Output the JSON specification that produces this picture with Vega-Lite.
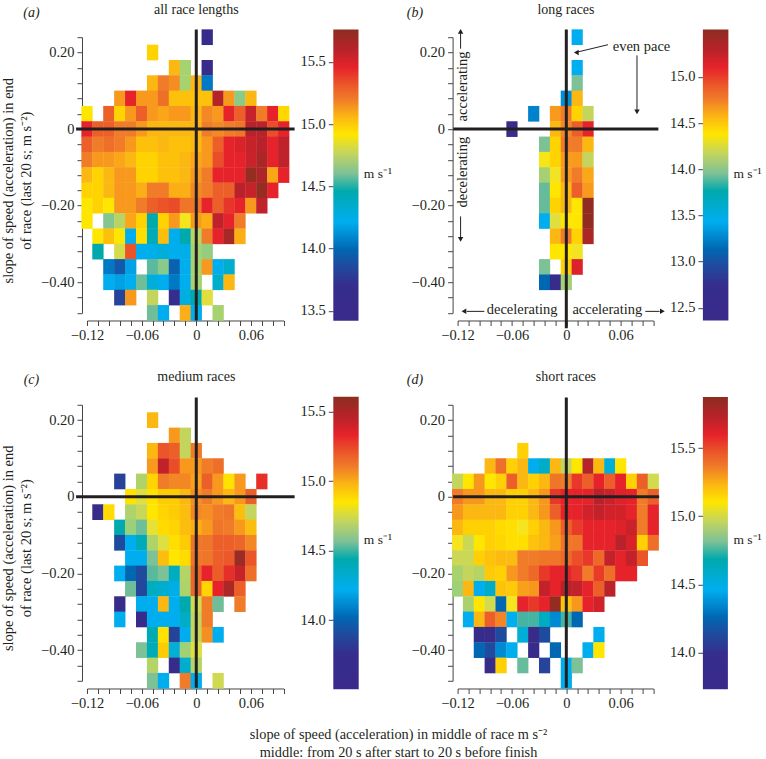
{"$schema":"https://vega.github.io/schema/vega-lite/v6.json","padding":{"top":2.2,"left":0,"right":0,"bottom":0},"bounds":"flush","columns":4,"spacing":{"row":91.6,"column":49.3},"resolve":{"scale":{"color":"independent"}},
"config":{"font":"Liberation Serif","view":{"stroke":null},"axis":{"grid":false,"domainColor":"#444444","tickColor":"#444444","tickSize":5,"labelColor":"#231f20","labelFontSize":14.5,"labelPadding":3,"labelOverlap":false,"labelFlush":false,"titleColor":"#231f20","titleFontWeight":"normal","titleFontSize":13.5},"title":{"fontSize":14,"fontWeight":"normal","color":"#231f20"},"text":{"color":"#231f20"}},
"concat":[
{"width":196.7,"height":275.7,"title":{"text":"all race lengths","frame":"group","anchor":"middle","dx":11,"dy":34.5,"offset":23},
"data":{"values":[
{"x":0.012,"y":0.24,"v":13.56},
{"x":-0.048,"y":0.2,"v":14.98},
{"x":-0.024,"y":0.16,"v":15.06},{"x":-0.012,"y":0.16,"v":14.72},{"x":0.012,"y":0.16,"v":13.56},
{"x":-0.048,"y":0.12,"v":15.06},{"x":-0.036,"y":0.12,"v":15.2},{"x":-0.024,"y":0.12,"v":15.16},{"x":-0.012,"y":0.12,"v":14.72},{"x":0,"y":0.12,"v":15.06},{"x":0.012,"y":0.12,"v":14.05},
{"x":-0.084,"y":0.08,"v":15.13},{"x":-0.072,"y":0.08,"v":15.46},{"x":-0.06,"y":0.08,"v":15.13},{"x":-0.048,"y":0.08,"v":15.13},{"x":-0.036,"y":0.08,"v":15.24},{"x":-0.024,"y":0.08,"v":15.03},{"x":-0.012,"y":0.08,"v":15.03},{"x":0,"y":0.08,"v":15.03},{"x":0.012,"y":0.08,"v":15.03},{"x":0.024,"y":0.08,"v":15.62},{"x":0.036,"y":0.08,"v":15.13},{"x":0.048,"y":0.08,"v":14.66},{"x":0.06,"y":0.08,"v":15.06},
{"x":-0.12,"y":0.04,"v":14.92},{"x":-0.096,"y":0.04,"v":15.29},{"x":-0.084,"y":0.04,"v":14.98},{"x":-0.072,"y":0.04,"v":15.13},{"x":-0.06,"y":0.04,"v":15.29},{"x":-0.048,"y":0.04,"v":15.13},{"x":-0.036,"y":0.04,"v":15.1},{"x":-0.024,"y":0.04,"v":15.13},{"x":-0.012,"y":0.04,"v":15.13},{"x":0,"y":0.04,"v":15.06},{"x":0.012,"y":0.04,"v":15.17},{"x":0.024,"y":0.04,"v":15.13},{"x":0.036,"y":0.04,"v":15.46},{"x":0.048,"y":0.04,"v":15.29},{"x":0.06,"y":0.04,"v":15.56},{"x":0.072,"y":0.04,"v":15.2},{"x":0.084,"y":0.04,"v":15.46},{"x":0.096,"y":0.04,"v":14.96},
{"x":-0.12,"y":0,"v":15.46},{"x":-0.108,"y":0,"v":15.29},{"x":-0.096,"y":0,"v":15.29},{"x":-0.084,"y":0,"v":15.2},{"x":-0.072,"y":0,"v":15.2},{"x":-0.06,"y":0,"v":15.13},{"x":-0.048,"y":0,"v":15.06},{"x":-0.036,"y":0,"v":15.06},{"x":-0.024,"y":0,"v":15.06},{"x":-0.012,"y":0,"v":15.06},{"x":0,"y":0,"v":15.06},{"x":0.012,"y":0,"v":15.2},{"x":0.024,"y":0,"v":15.17},{"x":0.036,"y":0,"v":15.2},{"x":0.048,"y":0,"v":15.22},{"x":0.06,"y":0,"v":15.6},{"x":0.072,"y":0,"v":15.6},{"x":0.084,"y":0,"v":15.35},{"x":0.096,"y":0,"v":15.46},
{"x":-0.12,"y":-0.04,"v":15.29},{"x":-0.108,"y":-0.04,"v":15.2},{"x":-0.096,"y":-0.04,"v":15.24},{"x":-0.084,"y":-0.04,"v":15.2},{"x":-0.072,"y":-0.04,"v":15.13},{"x":-0.06,"y":-0.04,"v":15.03},{"x":-0.048,"y":-0.04,"v":15.03},{"x":-0.036,"y":-0.04,"v":15.06},{"x":-0.024,"y":-0.04,"v":15.03},{"x":-0.012,"y":-0.04,"v":15.03},{"x":0,"y":-0.04,"v":15.06},{"x":0.012,"y":-0.04,"v":15.13},{"x":0.024,"y":-0.04,"v":15.29},{"x":0.036,"y":-0.04,"v":15.46},{"x":0.048,"y":-0.04,"v":15.5},{"x":0.06,"y":-0.04,"v":15.56},{"x":0.072,"y":-0.04,"v":15.6},{"x":0.084,"y":-0.04,"v":15.46},{"x":0.096,"y":-0.04,"v":15.58},
{"x":-0.12,"y":-0.08,"v":15.2},{"x":-0.108,"y":-0.08,"v":15.13},{"x":-0.096,"y":-0.08,"v":15.13},{"x":-0.084,"y":-0.08,"v":15.1},{"x":-0.072,"y":-0.08,"v":15.06},{"x":-0.06,"y":-0.08,"v":14.98},{"x":-0.048,"y":-0.08,"v":14.98},{"x":-0.036,"y":-0.08,"v":15.03},{"x":-0.024,"y":-0.08,"v":15.03},{"x":-0.012,"y":-0.08,"v":15.06},{"x":0,"y":-0.08,"v":15.1},{"x":0.012,"y":-0.08,"v":15.13},{"x":0.024,"y":-0.08,"v":15.35},{"x":0.036,"y":-0.08,"v":15.46},{"x":0.048,"y":-0.08,"v":15.46},{"x":0.06,"y":-0.08,"v":15.55},{"x":0.072,"y":-0.08,"v":15.65},{"x":0.084,"y":-0.08,"v":15.46},{"x":0.096,"y":-0.08,"v":15.58},
{"x":-0.12,"y":-0.12,"v":15.06},{"x":-0.108,"y":-0.12,"v":14.98},{"x":-0.096,"y":-0.12,"v":15.06},{"x":-0.084,"y":-0.12,"v":15.13},{"x":-0.072,"y":-0.12,"v":15.13},{"x":-0.06,"y":-0.12,"v":14.98},{"x":-0.048,"y":-0.12,"v":14.98},{"x":-0.036,"y":-0.12,"v":15.03},{"x":-0.024,"y":-0.12,"v":15.03},{"x":-0.012,"y":-0.12,"v":15.06},{"x":0,"y":-0.12,"v":15.13},{"x":0.012,"y":-0.12,"v":15.2},{"x":0.024,"y":-0.12,"v":15.46},{"x":0.036,"y":-0.12,"v":15.46},{"x":0.048,"y":-0.12,"v":15.46},{"x":0.06,"y":-0.12,"v":15.72},{"x":0.072,"y":-0.12,"v":15.64},{"x":0.084,"y":-0.12,"v":15.1},{"x":0.096,"y":-0.12,"v":15.46},
{"x":-0.12,"y":-0.16,"v":14.98},{"x":-0.108,"y":-0.16,"v":14.98},{"x":-0.096,"y":-0.16,"v":15.06},{"x":-0.084,"y":-0.16,"v":15.13},{"x":-0.072,"y":-0.16,"v":15.13},{"x":-0.06,"y":-0.16,"v":15.08},{"x":-0.048,"y":-0.16,"v":15.2},{"x":-0.036,"y":-0.16,"v":15.2},{"x":-0.024,"y":-0.16,"v":15.08},{"x":-0.012,"y":-0.16,"v":15.08},{"x":0,"y":-0.16,"v":15.17},{"x":0.012,"y":-0.16,"v":15.2},{"x":0.024,"y":-0.16,"v":15.29},{"x":0.036,"y":-0.16,"v":15.29},{"x":0.048,"y":-0.16,"v":15.6},{"x":0.06,"y":-0.16,"v":15.56},{"x":0.072,"y":-0.16,"v":15.72},{"x":0.084,"y":-0.16,"v":15.46},
{"x":-0.12,"y":-0.2,"v":14.92},{"x":-0.108,"y":-0.2,"v":14.98},{"x":-0.096,"y":-0.2,"v":14.92},{"x":-0.084,"y":-0.2,"v":15.13},{"x":-0.072,"y":-0.2,"v":15.13},{"x":-0.06,"y":-0.2,"v":15.2},{"x":-0.048,"y":-0.2,"v":15.29},{"x":-0.036,"y":-0.2,"v":15.33},{"x":-0.024,"y":-0.2,"v":15.36},{"x":-0.012,"y":-0.2,"v":15.22},{"x":0,"y":-0.2,"v":15.22},{"x":0.012,"y":-0.2,"v":15.46},{"x":0.024,"y":-0.2,"v":15.29},{"x":0.036,"y":-0.2,"v":15.42},{"x":0.048,"y":-0.2,"v":15.46},{"x":0.06,"y":-0.2,"v":15.13},{"x":0.072,"y":-0.2,"v":15.58},
{"x":-0.12,"y":-0.24,"v":14.92},{"x":-0.096,"y":-0.24,"v":14.63},{"x":-0.084,"y":-0.24,"v":14.75},{"x":-0.072,"y":-0.24,"v":15.1},{"x":-0.06,"y":-0.24,"v":14.98},{"x":-0.048,"y":-0.24,"v":14.46},{"x":-0.036,"y":-0.24,"v":14.98},{"x":-0.024,"y":-0.24,"v":15.13},{"x":-0.012,"y":-0.24,"v":14.9},{"x":0,"y":-0.24,"v":15.13},{"x":0.012,"y":-0.24,"v":15.08},{"x":0.024,"y":-0.24,"v":15.58},{"x":0.036,"y":-0.24,"v":15.46},{"x":0.048,"y":-0.24,"v":15.2},
{"x":-0.108,"y":-0.28,"v":14.92},{"x":-0.096,"y":-0.28,"v":15.03},{"x":-0.084,"y":-0.28,"v":14.92},{"x":-0.072,"y":-0.28,"v":14.22},{"x":-0.06,"y":-0.28,"v":14.94},{"x":-0.048,"y":-0.28,"v":14.42},{"x":-0.036,"y":-0.28,"v":15.04},{"x":-0.024,"y":-0.28,"v":14.22},{"x":-0.012,"y":-0.28,"v":14.46},{"x":0,"y":-0.28,"v":14.75},{"x":0.012,"y":-0.28,"v":15.2},{"x":0.024,"y":-0.28,"v":15.46},{"x":0.036,"y":-0.28,"v":15.66},{"x":0.048,"y":-0.28,"v":15.08},
{"x":-0.108,"y":-0.32,"v":14.46},{"x":-0.084,"y":-0.32,"v":14.82},{"x":-0.072,"y":-0.32,"v":15.33},{"x":-0.06,"y":-0.32,"v":14.22},{"x":-0.048,"y":-0.32,"v":14.25},{"x":-0.036,"y":-0.32,"v":14.3},{"x":-0.024,"y":-0.32,"v":14.22},{"x":-0.012,"y":-0.32,"v":14.25},{"x":0,"y":-0.32,"v":14.72},{"x":0.012,"y":-0.32,"v":14.68},
{"x":-0.096,"y":-0.36,"v":14.05},{"x":-0.084,"y":-0.36,"v":13.92},{"x":-0.072,"y":-0.36,"v":14.18},{"x":-0.048,"y":-0.36,"v":14.55},{"x":-0.036,"y":-0.36,"v":14.65},{"x":-0.024,"y":-0.36,"v":13.96},{"x":-0.012,"y":-0.36,"v":14.22},{"x":0,"y":-0.36,"v":14.72},{"x":0.012,"y":-0.36,"v":15.13},{"x":0.024,"y":-0.36,"v":14.22},{"x":0.036,"y":-0.36,"v":14.35},
{"x":-0.096,"y":-0.4,"v":14.22},{"x":-0.084,"y":-0.4,"v":14.18},{"x":-0.072,"y":-0.4,"v":14.22},{"x":-0.06,"y":-0.4,"v":14.58},{"x":-0.048,"y":-0.4,"v":14.3},{"x":-0.036,"y":-0.4,"v":14.22},{"x":-0.024,"y":-0.4,"v":14.05},{"x":-0.012,"y":-0.4,"v":14.22},{"x":0,"y":-0.4,"v":14.72},{"x":0.024,"y":-0.4,"v":14.35},{"x":0.036,"y":-0.4,"v":15.06},
{"x":-0.084,"y":-0.44,"v":13.82},{"x":-0.072,"y":-0.44,"v":15.13},{"x":-0.048,"y":-0.44,"v":14.77},{"x":-0.024,"y":-0.44,"v":13.7},{"x":-0.012,"y":-0.44,"v":14.28},{"x":0,"y":-0.44,"v":14.45},{"x":0.012,"y":-0.44,"v":14.85},
{"x":-0.048,"y":-0.48,"v":14.58},{"x":-0.036,"y":-0.48,"v":14.22},{"x":-0.012,"y":-0.48,"v":15.08},{"x":0,"y":-0.48,"v":14.22},{"x":0.024,"y":-0.48,"v":14.72}
]},
"encoding":{"x":{"field":"x","type":"quantitative","scale":{"domain":[-0.12,0.096],"nice":false,"zero":false},"axis":{"title":null,"offset":7.6,"values":[-0.12,-0.108,-0.096,-0.084,-0.072,-0.06,-0.048,-0.036,-0.024,-0.012,0,0.012,0.024,0.036,0.048,0.06,0.072,0.084,0.096],"labelExpr":"abs(datum.value+0.12)<1e-6?'−0.12':abs(datum.value+0.06)<1e-6?'−0.06':abs(datum.value)<1e-6?'0':abs(datum.value-0.06)<1e-6?'0.06':''"}},
"y":{"field":"y","type":"quantitative","scale":{"domain":[-0.48,0.24],"nice":false,"zero":false},"axis":{"title":["slope of speed (acceleration) in end","of race (last 20 s; m s⁻²)"],"titleFontSize":14.5,"titleX":-69.5,"titleY":143,"titleAngle":-90,"titleAlign":"center","titleBaseline":"alphabetic","titleLineHeight":18,"offset":5,"values":[-0.48,-0.44,-0.4,-0.36,-0.32,-0.28,-0.24,-0.2,-0.16,-0.12,-0.08,-0.04,0,0.04,0.08,0.12,0.16,0.2,0.24],"labelExpr":"abs(datum.value-0.2)<1e-6?'0.20':abs(datum.value)<1e-6?'0':abs(datum.value+0.2)<1e-6?'−0.20':abs(datum.value+0.4)<1e-6?'−0.40':''"}}},
"layer":[
{"mark":{"type":"rect","width":11.3,"height":15.7},"encoding":{"color":{"field":"v","type":"quantitative","legend":null,"scale":{"domain":[13.42,13.7,13.86,13.99,14.22,14.46,14.6,14.77,14.92,15.06,15.2,15.29,15.46,15.6,15.76],"range":["#3a2a8a","#362d8c","#1f4b9f","#0067b3","#00aeef","#00a9ad","#7dc197","#c4d55e","#ffe600","#fbb712","#f07c29","#ec5f29","#e6222a","#b9222a","#8c2d20"]}}}},
{"data":{"values":[{"x":0,"x2":0,"y":0.26,"y2":-0.5},{"x":-0.132,"x2":0.108,"y":0,"y2":0}]},"mark":{"type":"rule","strokeWidth":3,"color":"#231f20"},"encoding":{"x2":{"field":"x2"},"y2":{"field":"y2"}}},
{"data":{"values":[{"x":-0.181,"y":0.3045,"t":"(a)"}]},"mark":{"type":"text","fontStyle":"italic","fontSize":14},"encoding":{"text":{"field":"t"}}}
]},
{"width":74.4,"height":275.7,"data":{"values":[{"lo":13.42,"hi":15.76}]},"mark":{"type":"rect","fill":{"gradient":"linear","x1":0,"y1":1,"x2":0,"y2":0,"stops":[{"offset":0,"color":"#3a2a8a"},{"offset":0.12,"color":"#362d8c"},{"offset":0.19,"color":"#1f4b9f"},{"offset":0.245,"color":"#0067b3"},{"offset":0.34,"color":"#00aeef"},{"offset":0.445,"color":"#00a9ad"},{"offset":0.505,"color":"#7dc197"},{"offset":0.575,"color":"#c4d55e"},{"offset":0.64,"color":"#ffe600"},{"offset":0.7,"color":"#fbb712"},{"offset":0.76,"color":"#f07c29"},{"offset":0.8,"color":"#ec5f29"},{"offset":0.87,"color":"#e6222a"},{"offset":0.93,"color":"#b9222a"},{"offset":1,"color":"#8c2d20"}]}},
"encoding":{"x":{"value":0},"x2":{"value":25.2},"y":{"field":"lo","type":"quantitative","scale":{"domain":[13.483,15.698],"nice":false,"zero":false},"axis":{"values":[13.5,14,14.5,15,15.5],"format":".1f","domain":false,"title":"m s⁻¹","titleAngle":0,"titleAlign":"left","titleBaseline":"middle","titleX":30,"titleY":136}},"y2":{"field":"hi"}}},
{"width":195.7,"height":275.7,"title":{"text":"long races","frame":"group","anchor":"middle","dx":10.5,"dy":34.5,"offset":23},
"data":{"values":[
{"x":0.012,"y":0.24,"v":13.43},
{"x":0.012,"y":0.16,"v":13.43},
{"x":0.012,"y":0.12,"v":13.95},
{"x":0,"y":0.08,"v":13.3},{"x":0.012,"y":0.08,"v":14.57},
{"x":-0.036,"y":0.04,"v":13.25},{"x":-0.012,"y":0.04,"v":14.66},{"x":0,"y":0.04,"v":14.76},{"x":0.012,"y":0.04,"v":14.46},{"x":0.024,"y":0.04,"v":14.17},
{"x":-0.06,"y":0,"v":12.55},{"x":-0.012,"y":0,"v":14.57},{"x":0,"y":0,"v":14.72},{"x":0.012,"y":0,"v":14.88},{"x":0.024,"y":0,"v":15.1},
{"x":-0.024,"y":-0.04,"v":13.95},{"x":-0.012,"y":-0.04,"v":14.46},{"x":0,"y":-0.04,"v":14.76},{"x":0.012,"y":-0.04,"v":14.76},{"x":0.024,"y":-0.04,"v":14.57},
{"x":-0.024,"y":-0.08,"v":14.36},{"x":-0.012,"y":-0.08,"v":14.46},{"x":0,"y":-0.08,"v":14.66},{"x":0.012,"y":-0.08,"v":14.66},{"x":0.024,"y":-0.08,"v":14.17},
{"x":-0.024,"y":-0.12,"v":14.1},{"x":-0.012,"y":-0.12,"v":14.34},{"x":0,"y":-0.12,"v":14.66},{"x":0.012,"y":-0.12,"v":14.76},{"x":0.024,"y":-0.12,"v":14.62},
{"x":-0.024,"y":-0.16,"v":13.9},{"x":-0.012,"y":-0.16,"v":14.38},{"x":0,"y":-0.16,"v":14.57},{"x":0.012,"y":-0.16,"v":14.88},{"x":0.024,"y":-0.16,"v":14.66},
{"x":-0.024,"y":-0.2,"v":13.9},{"x":-0.012,"y":-0.2,"v":14.46},{"x":0,"y":-0.2,"v":14.57},{"x":0.012,"y":-0.2,"v":14.38},{"x":0.024,"y":-0.2,"v":15.48},
{"x":-0.024,"y":-0.24,"v":13.43},{"x":-0.012,"y":-0.24,"v":14.28},{"x":0,"y":-0.24,"v":14.38},{"x":0.012,"y":-0.24,"v":14.38},{"x":0.024,"y":-0.24,"v":15.48},
{"x":-0.012,"y":-0.28,"v":14.57},{"x":0,"y":-0.28,"v":14.76},{"x":0.012,"y":-0.28,"v":14.46},{"x":0.024,"y":-0.28,"v":15.36},
{"x":-0.012,"y":-0.32,"v":14.38},{"x":0,"y":-0.32,"v":14.38},{"x":0.012,"y":-0.32,"v":14.34},
{"x":-0.024,"y":-0.36,"v":13.95},{"x":0,"y":-0.36,"v":14.46},{"x":0.012,"y":-0.36,"v":15.14},
{"x":-0.024,"y":-0.4,"v":13.13},{"x":-0.012,"y":-0.4,"v":12.55},{"x":0,"y":-0.4,"v":14.1}
]},
"encoding":{"x":{"field":"x","type":"quantitative","scale":{"domain":[-0.12,0.096],"nice":false,"zero":false},"axis":{"title":null,"offset":7.6,"values":[-0.12,-0.108,-0.096,-0.084,-0.072,-0.06,-0.048,-0.036,-0.024,-0.012,0,0.012,0.024,0.036,0.048,0.06,0.072,0.084,0.096],"labelExpr":"abs(datum.value+0.12)<1e-6?'−0.12':abs(datum.value+0.06)<1e-6?'−0.06':abs(datum.value)<1e-6?'0':abs(datum.value-0.06)<1e-6?'0.06':''"}},
"y":{"field":"y","type":"quantitative","scale":{"domain":[-0.48,0.24],"nice":false,"zero":false},"axis":{"title":null,"offset":5,"values":[-0.48,-0.44,-0.4,-0.36,-0.32,-0.28,-0.24,-0.2,-0.16,-0.12,-0.08,-0.04,0,0.04,0.08,0.12,0.16,0.2,0.24],"labelExpr":"abs(datum.value-0.2)<1e-6?'0.20':abs(datum.value)<1e-6?'0':abs(datum.value+0.2)<1e-6?'−0.20':abs(datum.value+0.4)<1e-6?'−0.40':''"}}},
"layer":[
{"mark":{"type":"rect","width":11.2,"height":15.7},"encoding":{"color":{"field":"v","type":"quantitative","legend":null,"scale":{"domain":[12.36,12.74,12.96,13.13,13.43,13.76,13.95,14.17,14.38,14.57,14.76,14.88,15.1,15.29,15.51],"range":["#3a2a8a","#362d8c","#1f4b9f","#0067b3","#00aeef","#00a9ad","#7dc197","#c4d55e","#ffe600","#fbb712","#f07c29","#ec5f29","#e6222a","#b9222a","#8c2d20"]}}}},
{"data":{"values":[{"x":0,"x2":0,"y":0.26,"y2":-0.52},{"x":-0.1248,"x2":0.1016,"y":0,"y2":0}]},"mark":{"type":"rule","strokeWidth":3,"color":"#231f20"},"encoding":{"x2":{"field":"x2"},"y2":{"field":"y2"}}},
{"data":{"values":[{"x":0.046,"x2":0.01,"y":0.2204,"y2":0.2},{"x":0.078,"x2":0.078,"y":0.1925,"y2":0.045},{"x":-0.1167,"x2":-0.1167,"y":0.21,"y2":0.255},{"x":-0.1167,"x2":-0.1167,"y":-0.228,"y2":-0.288},{"x":-0.0905,"x2":-0.11,"y":-0.476,"y2":-0.476},{"x":0.0872,"x2":0.103,"y":-0.476,"y2":-0.476}]},"mark":{"type":"rule","strokeWidth":1,"color":"#231f20"},"encoding":{"x2":{"field":"x2"},"y2":{"field":"y2"}}},
{"data":{"values":[{"x":0.011,"y":0.2,"s":"triangle-left"},{"x":0.078,"y":0.045,"s":"triangle-down"},{"x":-0.1167,"y":0.255,"s":"triangle-up"},{"x":-0.1167,"y":-0.288,"s":"triangle-down"},{"x":-0.113,"y":-0.476,"s":"triangle-left"},{"x":0.106,"y":-0.476,"s":"triangle-right"}]},"mark":{"type":"point","filled":true,"size":30,"opacity":1,"color":"#231f20"},"encoding":{"shape":{"field":"s","type":"nominal","scale":null}}},
{"data":{"values":[{"x":0.083,"y":0.214,"t":"even pace"},{"x":-0.0488,"y":-0.4735,"t":"decelerating"},{"x":0.0453,"y":-0.4735,"t":"accelerating"}]},"mark":{"type":"text","fontSize":14.5},"encoding":{"text":{"field":"t"}}},
{"data":{"values":[{"x":-0.114,"y":0.1115,"t":"accelerating"},{"x":-0.114,"y":-0.1123,"t":"decelerating"}]},"mark":{"type":"text","fontSize":14.5,"angle":270},"encoding":{"text":{"field":"t"}}},
{"data":{"values":[{"x":-0.167,"y":0.3045,"t":"(b)"}]},"mark":{"type":"text","fontStyle":"italic","fontSize":14},"encoding":{"text":{"field":"t"}}}
]},
{"width":25.5,"height":275.7,"data":{"values":[{"lo":12.362,"hi":15.514}]},"mark":{"type":"rect","fill":{"gradient":"linear","x1":0,"y1":1,"x2":0,"y2":0,"stops":[{"offset":0,"color":"#3a2a8a"},{"offset":0.12,"color":"#362d8c"},{"offset":0.19,"color":"#1f4b9f"},{"offset":0.245,"color":"#0067b3"},{"offset":0.34,"color":"#00aeef"},{"offset":0.445,"color":"#00a9ad"},{"offset":0.505,"color":"#7dc197"},{"offset":0.575,"color":"#c4d55e"},{"offset":0.64,"color":"#ffe600"},{"offset":0.7,"color":"#fbb712"},{"offset":0.76,"color":"#f07c29"},{"offset":0.8,"color":"#ec5f29"},{"offset":0.87,"color":"#e6222a"},{"offset":0.93,"color":"#b9222a"},{"offset":1,"color":"#8c2d20"}]}},
"encoding":{"x":{"value":0},"x2":{"value":25.5},"y":{"field":"lo","type":"quantitative","scale":{"domain":[12.444,15.431],"nice":false,"zero":false},"axis":{"values":[12.5,13,13.5,14,14.5,15,15.5],"format":".1f","domain":false,"title":"m s⁻¹","titleAngle":0,"titleAlign":"left","titleBaseline":"middle","titleX":30,"titleY":136}},"y2":{"field":"hi"}}},
{"width":196.7,"height":276,"title":{"text":"medium races","frame":"group","anchor":"middle","dx":11,"dy":34.5,"offset":23},
"data":{"values":[
{"x":-0.048,"y":0.2,"v":14.98},
{"x":-0.024,"y":0.16,"v":15.04},{"x":-0.012,"y":0.16,"v":14.71},
{"x":-0.048,"y":0.12,"v":14.98},{"x":-0.036,"y":0.12,"v":15.22},{"x":-0.024,"y":0.12,"v":15.19},{"x":-0.012,"y":0.12,"v":14.71},{"x":0,"y":0.12,"v":15.1},
{"x":-0.048,"y":0.08,"v":15.04},{"x":-0.036,"y":0.08,"v":15.44},{"x":-0.024,"y":0.08,"v":15.24},{"x":-0.012,"y":0.08,"v":15.04},{"x":0,"y":0.08,"v":15.04},{"x":0.012,"y":0.08,"v":15.1},{"x":0.024,"y":0.08,"v":15.14},
{"x":-0.084,"y":0.04,"v":13.85},{"x":-0.06,"y":0.04,"v":14.68},{"x":-0.048,"y":0.04,"v":14.9},{"x":-0.036,"y":0.04,"v":15.1},{"x":-0.024,"y":0.04,"v":15.08},{"x":-0.012,"y":0.04,"v":15.08},{"x":0,"y":0.04,"v":15.02},{"x":0.012,"y":0.04,"v":15.19},{"x":0.024,"y":0.04,"v":15.04},{"x":0.036,"y":0.04,"v":14.86},{"x":0.048,"y":0.04,"v":15.04},{"x":0.072,"y":0.04,"v":15.31},
{"x":-0.072,"y":0,"v":14.86},{"x":-0.06,"y":0,"v":14.78},{"x":-0.048,"y":0,"v":14.86},{"x":-0.036,"y":0,"v":14.92},{"x":-0.024,"y":0,"v":14.92},{"x":-0.012,"y":0,"v":14.98},{"x":0,"y":0,"v":15.06},{"x":0.012,"y":0,"v":15.1},{"x":0.024,"y":0,"v":15.04},{"x":0.036,"y":0,"v":14.98},{"x":0.048,"y":0,"v":15.04},{"x":0.06,"y":0,"v":15.19},
{"x":-0.108,"y":-0.04,"v":13.63},{"x":-0.096,"y":-0.04,"v":14.88},{"x":-0.072,"y":-0.04,"v":14.68},{"x":-0.06,"y":-0.04,"v":14.72},{"x":-0.048,"y":-0.04,"v":14.85},{"x":-0.036,"y":-0.04,"v":14.9},{"x":-0.024,"y":-0.04,"v":14.92},{"x":-0.012,"y":-0.04,"v":14.96},{"x":0,"y":-0.04,"v":15.08},{"x":0.012,"y":-0.04,"v":15.06},{"x":0.024,"y":-0.04,"v":15.1},{"x":0.036,"y":-0.04,"v":15.12},{"x":0.048,"y":-0.04,"v":14.96},{"x":0.06,"y":-0.04,"v":14.71},
{"x":-0.084,"y":-0.08,"v":14.44},{"x":-0.072,"y":-0.08,"v":14.65},{"x":-0.06,"y":-0.08,"v":14.55},{"x":-0.048,"y":-0.08,"v":14.8},{"x":-0.036,"y":-0.08,"v":14.88},{"x":-0.024,"y":-0.08,"v":14.9},{"x":-0.012,"y":-0.08,"v":14.96},{"x":0,"y":-0.08,"v":15},{"x":0.012,"y":-0.08,"v":15.04},{"x":0.024,"y":-0.08,"v":15.12},{"x":0.036,"y":-0.08,"v":15.1},{"x":0.048,"y":-0.08,"v":15.04},{"x":0.06,"y":-0.08,"v":14.96},
{"x":-0.084,"y":-0.12,"v":13.9},{"x":-0.072,"y":-0.12,"v":14.22},{"x":-0.06,"y":-0.12,"v":14.4},{"x":-0.048,"y":-0.12,"v":14.68},{"x":-0.036,"y":-0.12,"v":14.78},{"x":-0.024,"y":-0.12,"v":14.87},{"x":-0.012,"y":-0.12,"v":14.92},{"x":0,"y":-0.12,"v":15.12},{"x":0.012,"y":-0.12,"v":15.12},{"x":0.024,"y":-0.12,"v":15.19},{"x":0.036,"y":-0.12,"v":15.19},{"x":0.048,"y":-0.12,"v":15.17},{"x":0.06,"y":-0.12,"v":15.08},
{"x":-0.072,"y":-0.16,"v":14.22},{"x":-0.06,"y":-0.16,"v":14.22},{"x":-0.048,"y":-0.16,"v":14.57},{"x":-0.036,"y":-0.16,"v":14.96},{"x":-0.024,"y":-0.16,"v":14.85},{"x":-0.012,"y":-0.16,"v":14.88},{"x":0,"y":-0.16,"v":15.12},{"x":0.012,"y":-0.16,"v":15.12},{"x":0.024,"y":-0.16,"v":15.19},{"x":0.036,"y":-0.16,"v":15.21},{"x":0.048,"y":-0.16,"v":15.56},{"x":0.06,"y":-0.16,"v":15.22},
{"x":-0.084,"y":-0.2,"v":14.22},{"x":-0.072,"y":-0.2,"v":14.02},{"x":-0.06,"y":-0.2,"v":13.9},{"x":-0.048,"y":-0.2,"v":14.52},{"x":-0.036,"y":-0.2,"v":14.57},{"x":-0.024,"y":-0.2,"v":14.38},{"x":-0.012,"y":-0.2,"v":14.69},{"x":0,"y":-0.2,"v":15.17},{"x":0.012,"y":-0.2,"v":15.33},{"x":0.024,"y":-0.2,"v":15.2},{"x":0.036,"y":-0.2,"v":15.31},{"x":0.048,"y":-0.2,"v":15.42},{"x":0.06,"y":-0.2,"v":15.14},
{"x":-0.072,"y":-0.24,"v":14.55},{"x":-0.06,"y":-0.24,"v":13.88},{"x":-0.048,"y":-0.24,"v":14.38},{"x":-0.036,"y":-0.24,"v":14.33},{"x":-0.024,"y":-0.24,"v":14.25},{"x":-0.012,"y":-0.24,"v":14.68},{"x":0,"y":-0.24,"v":15.17},{"x":0.012,"y":-0.24,"v":14.9},{"x":0.024,"y":-0.24,"v":15.33},{"x":0.036,"y":-0.24,"v":15.5},{"x":0.048,"y":-0.24,"v":15.19},
{"x":-0.084,"y":-0.28,"v":13.63},{"x":-0.06,"y":-0.28,"v":14.22},{"x":-0.048,"y":-0.28,"v":14.22},{"x":-0.036,"y":-0.28,"v":14.98},{"x":-0.024,"y":-0.28,"v":14.22},{"x":-0.012,"y":-0.28,"v":14.44},{"x":0,"y":-0.28,"v":14.75},{"x":0.012,"y":-0.28,"v":15.1},{"x":0.024,"y":-0.28,"v":14.55},{"x":0.048,"y":-0.28,"v":15.1},
{"x":-0.084,"y":-0.32,"v":14.22},{"x":-0.06,"y":-0.32,"v":13.63},{"x":-0.048,"y":-0.32,"v":14.22},{"x":-0.036,"y":-0.32,"v":14.22},{"x":-0.024,"y":-0.32,"v":14.22},{"x":-0.012,"y":-0.32,"v":14.36},{"x":0,"y":-0.32,"v":14.71},{"x":0.012,"y":-0.32,"v":15.1},
{"x":-0.048,"y":-0.36,"v":14.42},{"x":-0.036,"y":-0.36,"v":14.86},{"x":-0.024,"y":-0.36,"v":13.86},{"x":-0.012,"y":-0.36,"v":14.22},{"x":0,"y":-0.36,"v":14.71},{"x":0.012,"y":-0.36,"v":15.06},{"x":0.024,"y":-0.36,"v":14.22},
{"x":-0.06,"y":-0.4,"v":14.57},{"x":-0.048,"y":-0.4,"v":14.4},{"x":-0.036,"y":-0.4,"v":14.92},{"x":-0.024,"y":-0.4,"v":14.3},{"x":-0.012,"y":-0.4,"v":14.66},{"x":0,"y":-0.4,"v":14.78},
{"x":-0.048,"y":-0.44,"v":14.69},{"x":-0.024,"y":-0.44,"v":13.63},{"x":-0.012,"y":-0.44,"v":14.33},{"x":0,"y":-0.44,"v":14.69},
{"x":-0.048,"y":-0.48,"v":14.57},{"x":-0.036,"y":-0.48,"v":14.22},{"x":-0.012,"y":-0.48,"v":15.1},{"x":0,"y":-0.48,"v":14.22},{"x":0.024,"y":-0.48,"v":14.74}
]},
"encoding":{"x":{"field":"x","type":"quantitative","scale":{"domain":[-0.12,0.096],"nice":false,"zero":false},"axis":{"title":["slope of speed (acceleration) in middle of race m s⁻²","middle: from 20 s after start to 20 s before finish"],"titleFontSize":14.3,"titleX":311,"titleY":50,"titleAlign":"center","titleBaseline":"alphabetic","titleLineHeight":18.5,"offset":7.7,"values":[-0.12,-0.108,-0.096,-0.084,-0.072,-0.06,-0.048,-0.036,-0.024,-0.012,0,0.012,0.024,0.036,0.048,0.06,0.072,0.084,0.096],"labelExpr":"abs(datum.value+0.12)<1e-6?'−0.12':abs(datum.value+0.06)<1e-6?'−0.06':abs(datum.value)<1e-6?'0':abs(datum.value-0.06)<1e-6?'0.06':''"}},
"y":{"field":"y","type":"quantitative","scale":{"domain":[-0.48,0.24],"nice":false,"zero":false},"axis":{"title":["slope of speed (acceleration) in end","of race (last 20 s; m s⁻²)"],"titleFontSize":14.5,"titleX":-69.5,"titleY":143,"titleAngle":-90,"titleAlign":"center","titleBaseline":"alphabetic","titleLineHeight":18,"offset":5,"values":[-0.48,-0.44,-0.4,-0.36,-0.32,-0.28,-0.24,-0.2,-0.16,-0.12,-0.08,-0.04,0,0.04,0.08,0.12,0.16,0.2,0.24],"labelExpr":"abs(datum.value-0.2)<1e-6?'0.20':abs(datum.value)<1e-6?'0':abs(datum.value+0.2)<1e-6?'−0.20':abs(datum.value+0.4)<1e-6?'−0.40':''"}}},
"layer":[
{"mark":{"type":"rect","width":11.3,"height":15.7},"encoding":{"color":{"field":"v","type":"quantitative","legend":null,"scale":{"domain":[13.5,13.76,13.9,14.02,14.22,14.44,14.57,14.71,14.85,14.98,15.1,15.19,15.33,15.46,15.61],"range":["#3a2a8a","#362d8c","#1f4b9f","#0067b3","#00aeef","#00a9ad","#7dc197","#c4d55e","#ffe600","#fbb712","#f07c29","#ec5f29","#e6222a","#b9222a","#8c2d20"]}}}},
{"data":{"values":[{"x":0,"x2":0,"y":0.259,"y2":-0.498},{"x":-0.132,"x2":0.108,"y":0,"y2":0}]},"mark":{"type":"rule","strokeWidth":3,"color":"#231f20"},"encoding":{"x2":{"field":"x2"},"y2":{"field":"y2"}}},
{"data":{"values":[{"x":-0.181,"y":0.3053,"t":"(c)"}]},"mark":{"type":"text","fontStyle":"italic","fontSize":14},"encoding":{"text":{"field":"t"}}}
]},
{"width":74.4,"height":276,"data":{"values":[{"lo":13.504,"hi":15.606}]},"mark":{"type":"rect","fill":{"gradient":"linear","x1":0,"y1":1,"x2":0,"y2":0,"stops":[{"offset":0,"color":"#3a2a8a"},{"offset":0.12,"color":"#362d8c"},{"offset":0.19,"color":"#1f4b9f"},{"offset":0.245,"color":"#0067b3"},{"offset":0.34,"color":"#00aeef"},{"offset":0.445,"color":"#00a9ad"},{"offset":0.505,"color":"#7dc197"},{"offset":0.575,"color":"#c4d55e"},{"offset":0.64,"color":"#ffe600"},{"offset":0.7,"color":"#fbb712"},{"offset":0.76,"color":"#f07c29"},{"offset":0.8,"color":"#ec5f29"},{"offset":0.87,"color":"#e6222a"},{"offset":0.93,"color":"#b9222a"},{"offset":1,"color":"#8c2d20"}]}},
"encoding":{"x":{"value":0},"x2":{"value":25.4},"y":{"field":"lo","type":"quantitative","scale":{"domain":[13.565,15.548],"nice":false,"zero":false},"axis":{"values":[14,14.5,15,15.5],"format":".1f","domain":false,"title":"m s⁻¹","titleAngle":0,"titleAlign":"left","titleBaseline":"middle","titleX":30,"titleY":135}},"y2":{"field":"hi"}}},
{"width":195.7,"height":276,"title":{"text":"short races","frame":"group","anchor":"middle","dx":10.5,"dy":34.5,"offset":23},
"data":{"values":[
{"x":-0.048,"y":0.12,"v":15.16},
{"x":-0.084,"y":0.08,"v":15.23},{"x":-0.072,"y":0.08,"v":15.4},{"x":-0.06,"y":0.08,"v":15.16},{"x":-0.048,"y":0.08,"v":15.23},{"x":-0.036,"y":0.08,"v":14.46},{"x":-0.024,"y":0.08,"v":14.6},{"x":-0.012,"y":0.08,"v":15.23},{"x":0,"y":0.08,"v":14.96},{"x":0.012,"y":0.08,"v":15.1},{"x":0.024,"y":0.08,"v":15.75},{"x":0.036,"y":0.08,"v":15.23},{"x":0.048,"y":0.08,"v":14.55},{"x":0.06,"y":0.08,"v":15.1},
{"x":-0.12,"y":0.04,"v":14.96},{"x":-0.108,"y":0.04,"v":15.1},{"x":-0.096,"y":0.04,"v":15.3},{"x":-0.084,"y":0.04,"v":15.1},{"x":-0.072,"y":0.04,"v":15.16},{"x":-0.06,"y":0.04,"v":15.45},{"x":-0.048,"y":0.04,"v":15.23},{"x":-0.036,"y":0.04,"v":15.16},{"x":-0.024,"y":0.04,"v":15.23},{"x":-0.012,"y":0.04,"v":15.38},{"x":0,"y":0.04,"v":15.36},{"x":0.012,"y":0.04,"v":15.56},{"x":0.024,"y":0.04,"v":15.45},{"x":0.036,"y":0.04,"v":15.6},{"x":0.048,"y":0.04,"v":15.45},{"x":0.06,"y":0.04,"v":15.6},{"x":0.072,"y":0.04,"v":15.16},{"x":0.084,"y":0.04,"v":15.45},{"x":0.096,"y":0.04,"v":15},
{"x":-0.12,"y":0,"v":15.36},{"x":-0.108,"y":0,"v":15.3},{"x":-0.096,"y":0,"v":15.3},{"x":-0.084,"y":0,"v":15.23},{"x":-0.072,"y":0,"v":15.23},{"x":-0.06,"y":0,"v":15.16},{"x":-0.048,"y":0,"v":15.16},{"x":-0.036,"y":0,"v":15.23},{"x":-0.024,"y":0,"v":15.3},{"x":-0.012,"y":0,"v":15.56},{"x":0,"y":0,"v":15.6},{"x":0.012,"y":0,"v":15.6},{"x":0.024,"y":0,"v":15.6},{"x":0.036,"y":0,"v":15.73},{"x":0.048,"y":0,"v":15.68},{"x":0.06,"y":0,"v":15.62},{"x":0.072,"y":0,"v":15.6},{"x":0.084,"y":0,"v":15.36},{"x":0.096,"y":0,"v":15.45},
{"x":-0.12,"y":-0.04,"v":15.3},{"x":-0.108,"y":-0.04,"v":15.23},{"x":-0.096,"y":-0.04,"v":15.23},{"x":-0.084,"y":-0.04,"v":15.23},{"x":-0.072,"y":-0.04,"v":15.23},{"x":-0.06,"y":-0.04,"v":15.16},{"x":-0.048,"y":-0.04,"v":15.16},{"x":-0.036,"y":-0.04,"v":15.23},{"x":-0.024,"y":-0.04,"v":15.3},{"x":-0.012,"y":-0.04,"v":15.45},{"x":0,"y":-0.04,"v":15.6},{"x":0.012,"y":-0.04,"v":15.6},{"x":0.024,"y":-0.04,"v":15.66},{"x":0.036,"y":-0.04,"v":15.7},{"x":0.048,"y":-0.04,"v":15.66},{"x":0.06,"y":-0.04,"v":15.66},{"x":0.072,"y":-0.04,"v":15.6},{"x":0.084,"y":-0.04,"v":15.36},{"x":0.096,"y":-0.04,"v":15.6},
{"x":-0.12,"y":-0.08,"v":15.23},{"x":-0.108,"y":-0.08,"v":15.16},{"x":-0.096,"y":-0.08,"v":15.16},{"x":-0.084,"y":-0.08,"v":15.16},{"x":-0.072,"y":-0.08,"v":15.13},{"x":-0.06,"y":-0.08,"v":15.12},{"x":-0.048,"y":-0.08,"v":15.08},{"x":-0.036,"y":-0.08,"v":15.16},{"x":-0.024,"y":-0.08,"v":15.23},{"x":-0.012,"y":-0.08,"v":15.3},{"x":0,"y":-0.08,"v":15.45},{"x":0.012,"y":-0.08,"v":15.55},{"x":0.024,"y":-0.08,"v":15.6},{"x":0.036,"y":-0.08,"v":15.6},{"x":0.048,"y":-0.08,"v":15.6},{"x":0.06,"y":-0.08,"v":15.62},{"x":0.072,"y":-0.08,"v":15.68},{"x":0.084,"y":-0.08,"v":15.36},{"x":0.096,"y":-0.08,"v":15.6},
{"x":-0.12,"y":-0.12,"v":15.08},{"x":-0.108,"y":-0.12,"v":14.98},{"x":-0.096,"y":-0.12,"v":15.1},{"x":-0.084,"y":-0.12,"v":15.16},{"x":-0.072,"y":-0.12,"v":15.14},{"x":-0.06,"y":-0.12,"v":15.12},{"x":-0.048,"y":-0.12,"v":15.12},{"x":-0.036,"y":-0.12,"v":15.2},{"x":-0.024,"y":-0.12,"v":15.23},{"x":-0.012,"y":-0.12,"v":15.28},{"x":0,"y":-0.12,"v":15.38},{"x":0.012,"y":-0.12,"v":15.38},{"x":0.024,"y":-0.12,"v":15.6},{"x":0.036,"y":-0.12,"v":15.6},{"x":0.048,"y":-0.12,"v":15.6},{"x":0.06,"y":-0.12,"v":15.73},{"x":0.072,"y":-0.12,"v":15.64},{"x":0.084,"y":-0.12,"v":15.16},{"x":0.096,"y":-0.12,"v":15.4},
{"x":-0.12,"y":-0.16,"v":14.98},{"x":-0.108,"y":-0.16,"v":14.98},{"x":-0.096,"y":-0.16,"v":15.16},{"x":-0.084,"y":-0.16,"v":15.2},{"x":-0.072,"y":-0.16,"v":15.22},{"x":-0.06,"y":-0.16,"v":15.22},{"x":-0.048,"y":-0.16,"v":15.36},{"x":-0.036,"y":-0.16,"v":15.36},{"x":-0.024,"y":-0.16,"v":15.38},{"x":-0.012,"y":-0.16,"v":15.38},{"x":0,"y":-0.16,"v":15.42},{"x":0.012,"y":-0.16,"v":15.5},{"x":0.024,"y":-0.16,"v":15.56},{"x":0.036,"y":-0.16,"v":15.42},{"x":0.048,"y":-0.16,"v":15.7},{"x":0.06,"y":-0.16,"v":15.6},{"x":0.072,"y":-0.16,"v":15.7},{"x":0.084,"y":-0.16,"v":15.48},
{"x":-0.12,"y":-0.2,"v":14.92},{"x":-0.108,"y":-0.2,"v":14.96},{"x":-0.096,"y":-0.2,"v":14.94},{"x":-0.084,"y":-0.2,"v":15.18},{"x":-0.072,"y":-0.2,"v":15.16},{"x":-0.06,"y":-0.2,"v":15.3},{"x":-0.048,"y":-0.2,"v":15.36},{"x":-0.036,"y":-0.2,"v":15.42},{"x":-0.024,"y":-0.2,"v":15.56},{"x":-0.012,"y":-0.2,"v":15.6},{"x":0,"y":-0.2,"v":15.6},{"x":0.012,"y":-0.2,"v":15.56},{"x":0.024,"y":-0.2,"v":15.36},{"x":0.036,"y":-0.2,"v":15.55},{"x":0.048,"y":-0.2,"v":15.4},{"x":0.06,"y":-0.2,"v":15.6},{"x":0.072,"y":-0.2,"v":15.6},
{"x":-0.12,"y":-0.24,"v":14.9},{"x":-0.108,"y":-0.24,"v":15.23},{"x":-0.096,"y":-0.24,"v":14.46},{"x":-0.084,"y":-0.24,"v":14.6},{"x":-0.072,"y":-0.24,"v":15.2},{"x":-0.06,"y":-0.24,"v":15.18},{"x":-0.048,"y":-0.24,"v":15.28},{"x":-0.036,"y":-0.24,"v":15.3},{"x":-0.024,"y":-0.24,"v":15.7},{"x":-0.012,"y":-0.24,"v":15.6},{"x":0,"y":-0.24,"v":15.73},{"x":0.012,"y":-0.24,"v":15.7},{"x":0.024,"y":-0.24,"v":15.6},{"x":0.036,"y":-0.24,"v":15.45},{"x":0.048,"y":-0.24,"v":15.72},
{"x":-0.108,"y":-0.28,"v":14.92},{"x":-0.096,"y":-0.28,"v":15.1},{"x":-0.084,"y":-0.28,"v":15},{"x":-0.072,"y":-0.28,"v":14.26},{"x":-0.06,"y":-0.28,"v":15.08},{"x":-0.048,"y":-0.28,"v":15.6},{"x":-0.036,"y":-0.28,"v":15.56},{"x":-0.024,"y":-0.28,"v":15.6},{"x":-0.012,"y":-0.28,"v":15.85},{"x":0,"y":-0.28,"v":15.2},{"x":0.012,"y":-0.28,"v":15.3},{"x":0.024,"y":-0.28,"v":15.6},{"x":0.036,"y":-0.28,"v":15.66},
{"x":-0.108,"y":-0.32,"v":14.46},{"x":-0.096,"y":-0.32,"v":15.23},{"x":-0.084,"y":-0.32,"v":15.45},{"x":-0.072,"y":-0.32,"v":15.34},{"x":-0.06,"y":-0.32,"v":14.46},{"x":-0.048,"y":-0.32,"v":14.74},{"x":-0.036,"y":-0.32,"v":14.74},{"x":-0.024,"y":-0.32,"v":14.62},{"x":-0.012,"y":-0.32,"v":14.36},{"x":0,"y":-0.32,"v":14.74},{"x":0.012,"y":-0.32,"v":14.26},
{"x":-0.096,"y":-0.36,"v":13.86},{"x":-0.084,"y":-0.36,"v":13.86},{"x":-0.072,"y":-0.36,"v":14.14},{"x":-0.048,"y":-0.36,"v":14.55},{"x":-0.036,"y":-0.36,"v":13.86},{"x":-0.024,"y":-0.36,"v":14.14},{"x":0.036,"y":-0.36,"v":14.46},
{"x":-0.096,"y":-0.4,"v":14.26},{"x":-0.084,"y":-0.4,"v":14.14},{"x":-0.072,"y":-0.4,"v":14.36},{"x":-0.06,"y":-0.4,"v":14.46},{"x":-0.036,"y":-0.4,"v":13.86},{"x":-0.012,"y":-0.4,"v":14.26},{"x":0.024,"y":-0.4,"v":14.46},{"x":0.036,"y":-0.4,"v":15.1},
{"x":-0.084,"y":-0.44,"v":13.86},{"x":-0.072,"y":-0.44,"v":15.16},{"x":-0.048,"y":-0.44,"v":14.78},{"x":-0.024,"y":-0.44,"v":14.1},{"x":0,"y":-0.44,"v":14.46},{"x":0.012,"y":-0.44,"v":14.81},
{"x":0,"y":-0.48,"v":14.46}
]},
"encoding":{"x":{"field":"x","type":"quantitative","scale":{"domain":[-0.12,0.096],"nice":false,"zero":false},"axis":{"title":null,"offset":7.7,"values":[-0.12,-0.108,-0.096,-0.084,-0.072,-0.06,-0.048,-0.036,-0.024,-0.012,0,0.012,0.024,0.036,0.048,0.06,0.072,0.084,0.096],"labelExpr":"abs(datum.value+0.12)<1e-6?'−0.12':abs(datum.value+0.06)<1e-6?'−0.06':abs(datum.value)<1e-6?'0':abs(datum.value-0.06)<1e-6?'0.06':''"}},
"y":{"field":"y","type":"quantitative","scale":{"domain":[-0.48,0.24],"nice":false,"zero":false},"axis":{"title":null,"offset":5,"values":[-0.48,-0.44,-0.4,-0.36,-0.32,-0.28,-0.24,-0.2,-0.16,-0.12,-0.08,-0.04,0,0.04,0.08,0.12,0.16,0.2,0.24],"labelExpr":"abs(datum.value-0.2)<1e-6?'0.20':abs(datum.value)<1e-6?'0':abs(datum.value+0.2)<1e-6?'−0.20':abs(datum.value+0.4)<1e-6?'−0.40':''"}}},
"layer":[
{"mark":{"type":"rect","width":11.2,"height":15.7},"encoding":{"color":{"field":"v","type":"quantitative","legend":null,"scale":{"domain":[13.73,13.99,14.14,14.26,14.46,14.69,14.81,14.96,15.1,15.23,15.36,15.45,15.6,15.73,15.88],"range":["#3a2a8a","#362d8c","#1f4b9f","#0067b3","#00aeef","#00a9ad","#7dc197","#c4d55e","#ffe600","#fbb712","#f07c29","#ec5f29","#e6222a","#b9222a","#8c2d20"]}}}},
{"data":{"values":[{"x":0,"x2":0,"y":0.259,"y2":-0.498},{"x":-0.125,"x2":0.1025,"y":0,"y2":0}]},"mark":{"type":"rule","strokeWidth":3,"color":"#231f20"},"encoding":{"x2":{"field":"x2"},"y2":{"field":"y2"}}},
{"data":{"values":[{"x":-0.167,"y":0.3053,"t":"(d)"}]},"mark":{"type":"text","fontStyle":"italic","fontSize":14},"encoding":{"text":{"field":"t"}}}
]},
{"width":25,"height":276,"data":{"values":[{"lo":13.731,"hi":15.876}]},"mark":{"type":"rect","fill":{"gradient":"linear","x1":0,"y1":1,"x2":0,"y2":0,"stops":[{"offset":0,"color":"#3a2a8a"},{"offset":0.12,"color":"#362d8c"},{"offset":0.19,"color":"#1f4b9f"},{"offset":0.245,"color":"#0067b3"},{"offset":0.34,"color":"#00aeef"},{"offset":0.445,"color":"#00a9ad"},{"offset":0.505,"color":"#7dc197"},{"offset":0.575,"color":"#c4d55e"},{"offset":0.64,"color":"#ffe600"},{"offset":0.7,"color":"#fbb712"},{"offset":0.76,"color":"#f07c29"},{"offset":0.8,"color":"#ec5f29"},{"offset":0.87,"color":"#e6222a"},{"offset":0.93,"color":"#b9222a"},{"offset":1,"color":"#8c2d20"}]}},
"encoding":{"x":{"value":0},"x2":{"value":25},"y":{"field":"lo","type":"quantitative","scale":{"domain":[13.793,15.818],"nice":false,"zero":false},"axis":{"values":[14,14.5,15,15.5],"format":".1f","domain":false,"title":"m s⁻¹","titleAngle":0,"titleAlign":"left","titleBaseline":"middle","titleX":30,"titleY":135}},"y2":{"field":"hi"}}}
]}
